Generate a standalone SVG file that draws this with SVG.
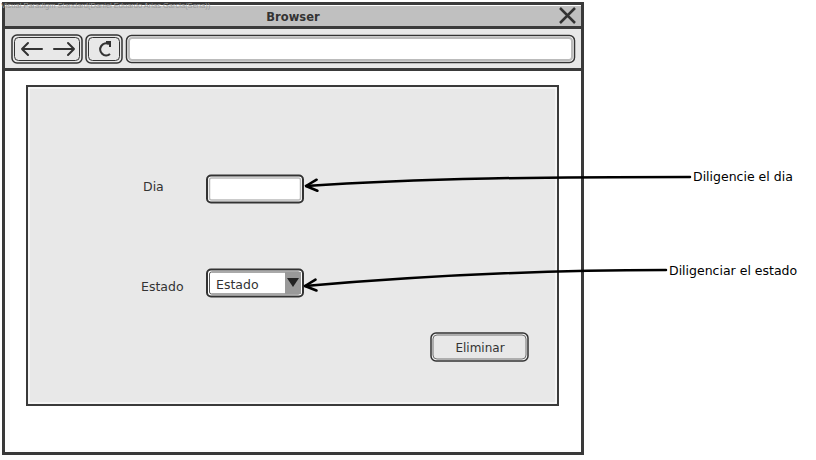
<svg xmlns="http://www.w3.org/2000/svg" width="816" height="460" viewBox="0 0 816 460">
<style>
.t{font-family:"DejaVu Sans","Liberation Sans",Arial,sans-serif;fill:#333;font-size:12.5px}
.conn{fill:none;stroke:#000;stroke-width:2.5;stroke-linecap:round}
</style>
<defs>
<marker id="ah" viewBox="0 0 14 14" refX="12.5" refY="7" markerWidth="14" markerHeight="14" markerUnits="userSpaceOnUse" orient="auto">
<path d="M1.5,1.5 L12.5,7 L1.5,12.5" fill="none" stroke="#000" stroke-width="2.6" stroke-linecap="round" stroke-linejoin="round"/>
</marker>
</defs>
<rect width="816" height="460" fill="#fff"/>
<g id="browser">
<rect x="3.5" y="3.5" width="579" height="450" fill="#fff" stroke="#3a3a3a" stroke-width="3"/>
<rect x="5" y="6" width="576" height="20" fill="#c0c0c0"/>
<rect x="5" y="26" width="576" height="3" fill="#3a3a3a"/>
<rect x="5" y="29" width="576" height="39" fill="#e8e8e8"/>
<rect x="5" y="68" width="576" height="3" fill="#3a3a3a"/>
<text x="293" y="21" text-anchor="middle" class="t" style="font-size:11.5px;font-weight:bold">Browser</text>
<path d="M560,8 L575,23 M575,8 L560,23" stroke="#333" stroke-width="2.5" fill="none"/>
<rect x="12" y="35" width="70" height="28" rx="5" fill="#e8e8e8" stroke="#333" stroke-width="1.5"/>
<rect x="14.5" y="37.5" width="65" height="23" rx="4" fill="none" stroke="#333" stroke-width="1"/>
<path d="M22,49 L42,49 M28,43 L22,49 L28,55 M54,49 L74,49 M68,43 L74,49 L68,55" stroke="#333" stroke-width="2" fill="none" stroke-linecap="round" stroke-linejoin="round"/>
<rect x="86" y="35" width="36" height="28" rx="5" fill="#e8e8e8" stroke="#333" stroke-width="1.5"/>
<rect x="88.5" y="37.5" width="31" height="23" rx="4" fill="none" stroke="#333" stroke-width="1"/>
<path d="M109,44 A6,6 0 1 0 110,54" stroke="#333" stroke-width="2.2" fill="none"/>
<path d="M106,42 L110,42 L110,47" stroke="#333" stroke-width="2" fill="none"/>
<rect x="126.5" y="35.5" width="448" height="27" rx="5" fill="#fff" stroke="#333" stroke-width="1.5"/>
<rect x="129" y="38" width="443" height="22" rx="3" fill="none" stroke="#bbb" stroke-width="2"/>
<text x="1" y="8" style="font-family:'Liberation Sans',Arial,sans-serif;font-size:7.5px;fill:#999">Visual Paradigm Standard(Daniel Eduardo Arias Garcia(Sena))</text>
</g>
<g id="panel">
<rect x="27" y="86" width="531" height="319" fill="#e8e8e8" stroke="#3a3a3a" stroke-width="2"/>
<rect x="29" y="88" width="527" height="315" fill="none" stroke="#fff" stroke-width="1"/>
</g>
<g id="dia">
<text x="143" y="191" class="t">Dia</text>
<rect x="207" y="175.5" width="96" height="27" rx="4" fill="#fff" stroke="#333" stroke-width="2"/>
<rect x="209.5" y="178" width="91" height="22" rx="2" fill="none" stroke="#bbb" stroke-width="1.5"/>
</g>
<g id="estado">
<text x="141" y="291" class="t">Estado</text>
<rect x="207" y="269.5" width="96" height="27" rx="4" fill="#fff" stroke="#333" stroke-width="2"/>
<rect x="209.5" y="272" width="91" height="22" rx="2" fill="none" stroke="#555" stroke-width="1"/>
<rect x="285" y="272" width="16" height="22" fill="#999"/>
<path d="M287,278 L299,278 L293,287 Z" fill="#222"/>
<text x="216" y="289" class="t">Estado</text>
</g>
<g id="eliminar">
<rect x="431" y="333" width="97" height="28" rx="5" fill="#e8e8e8" stroke="#333" stroke-width="1.5"/>
<rect x="433" y="335" width="93" height="24" rx="4" fill="none" stroke="#555" stroke-width="0.8"/>
<text x="480" y="352" text-anchor="middle" class="t" style="font-size:12px">Eliminar</text>
</g>
<g id="notes">
<text x="693" y="181" class="t" style="fill:#000">Diligencie el dia</text>
<text x="669" y="275" class="t" style="fill:#000">Diligenciar el estado</text>
</g>
<g id="connectors">
<path class="conn" d="M690,177 C550,177 420,178 306,186" marker-end="url(#ah)"/>
<path class="conn" d="M666,270 C540,270 420,276 305,286" marker-end="url(#ah)"/>
</g>
</svg>
